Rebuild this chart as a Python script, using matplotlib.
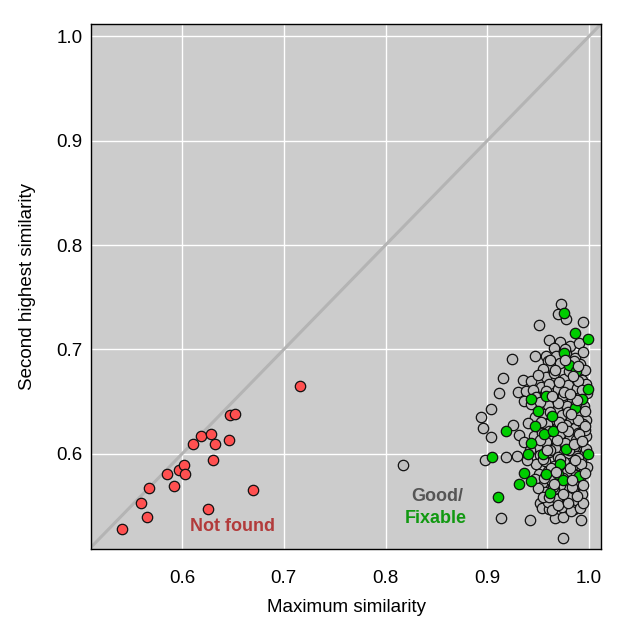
import matplotlib
matplotlib.use("Agg")
import matplotlib.pyplot as plt

plt.rcParams['font.family'] = ['Liberation Sans', 'DejaVu Sans']

# not found (red)
red_x = [0.541, 0.560, 0.566, 0.568, 0.585, 0.592, 0.597, 0.602, 0.603, 0.611,
         0.619, 0.628, 0.632, 0.630, 0.626, 0.646, 0.647, 0.652, 0.670, 0.716]
red_y = [0.528, 0.553, 0.540, 0.567, 0.581, 0.569, 0.585, 0.589, 0.581, 0.609,
         0.617, 0.619, 0.609, 0.594, 0.547, 0.613, 0.637, 0.638, 0.565, 0.665]

# good (gray): outliers first, then the dense core
gray_x = [0.817,
          0.9725, 0.9698, 0.9775, 0.9942, 0.9511, 0.9609, 0.9248, 0.9471, 0.9580, 0.9153,
          0.9350, 0.9426, 0.9120, 0.9301, 0.9383, 0.9360, 0.9035, 0.8939, 0.8963, 0.9035,
          0.9254, 0.9308, 0.9363, 0.8982, 0.9189, 0.9291, 0.9136, 0.9416, 0.9748, 0.9666,
          0.9748, 0.9823, 0.9853, 0.9925, 0.9515, 0.9540, 0.9604,
          0.972, 0.981, 0.990, 0.966,
          0.968, 0.977, 0.986, 0.994, 0.960,
          0.963, 0.972, 0.983, 0.991, 0.996, 0.955,
          0.958, 0.966, 0.975, 0.984, 0.993, 0.950,
          0.953, 0.961, 0.970, 0.979, 0.988, 0.997, 0.945,
          0.948, 0.957, 0.966, 0.974, 0.983, 0.992, 0.998,
          0.951, 0.960, 0.969, 0.978, 0.987, 0.995, 0.943,
          0.947, 0.955, 0.964, 0.973, 0.982, 0.990, 0.997,
          0.950, 0.959, 0.968, 0.977, 0.986, 0.994, 0.940,
          0.946, 0.954, 0.963, 0.972, 0.981, 0.989, 0.997,
          0.949, 0.958, 0.967, 0.976, 0.985, 0.993, 0.942,
          0.952, 0.961, 0.970, 0.979, 0.988, 0.996,
          0.948, 0.957, 0.966, 0.975, 0.984, 0.992, 0.939,
          0.951, 0.960, 0.969, 0.978, 0.987, 0.995,
          0.954, 0.963, 0.972, 0.981, 0.990, 0.947,
          0.957, 0.966, 0.975, 0.984, 0.993, 0.950,
          0.960, 0.969, 0.978, 0.987, 0.955,
          0.964, 0.973, 0.982, 0.991,
          0.976, 0.985, 0.967, 0.980, 0.971, 0.989, 0.958, 0.975, 0.993, 0.952,
          0.970, 0.987, 0.962, 0.979, 0.996, 0.953, 0.971, 0.989, 0.961, 0.979,
          0.996, 0.952, 0.969, 0.987, 0.962, 0.980, 0.997, 0.955, 0.972, 0.989,
          0.963, 0.981, 0.998, 0.956, 0.974, 0.991, 0.965, 0.983, 0.961, 0.979,
          0.994, 0.970]
gray_y = [0.589,
          0.7431, 0.7336, 0.7288, 0.7259, 0.7230, 0.7093, 0.6904, 0.6936, 0.6942, 0.6729,
          0.6706, 0.6700, 0.6585, 0.6594, 0.6600, 0.6511, 0.6434, 0.6355, 0.6252, 0.6166,
          0.6278, 0.6178, 0.6115, 0.5945, 0.5967, 0.5984, 0.5383, 0.5363, 0.5195, 0.5386,
          0.5399, 0.5478, 0.5473, 0.5363, 0.5526, 0.5482, 0.5476,
          0.707, 0.703, 0.706, 0.701,
          0.694, 0.697, 0.692, 0.698, 0.689,
          0.684, 0.687, 0.682, 0.686, 0.680, 0.681,
          0.674, 0.677, 0.672, 0.676, 0.671, 0.676,
          0.664, 0.667, 0.662, 0.666, 0.663, 0.667, 0.661,
          0.654, 0.657, 0.652, 0.656, 0.651, 0.655, 0.658,
          0.644, 0.647, 0.642, 0.646, 0.643, 0.646, 0.648,
          0.635, 0.638, 0.633, 0.637, 0.634, 0.638, 0.632,
          0.626, 0.629, 0.624, 0.628, 0.625, 0.629, 0.630,
          0.617, 0.620, 0.615, 0.619, 0.616, 0.620, 0.617,
          0.608, 0.611, 0.606, 0.610, 0.607, 0.611, 0.604,
          0.599, 0.602, 0.597, 0.601, 0.598, 0.602,
          0.590, 0.593, 0.588, 0.592, 0.589, 0.593, 0.594,
          0.581, 0.584, 0.579, 0.583, 0.580, 0.584,
          0.572, 0.575, 0.570, 0.574, 0.571, 0.576,
          0.563, 0.566, 0.561, 0.565, 0.562, 0.567,
          0.554, 0.557, 0.552, 0.556, 0.559,
          0.546, 0.549, 0.545, 0.548,
          0.700, 0.689, 0.680, 0.679, 0.669, 0.670, 0.660, 0.659, 0.661, 0.650,
          0.649, 0.648, 0.640, 0.640, 0.641, 0.631, 0.631, 0.632, 0.622, 0.622,
          0.623, 0.613, 0.613, 0.613, 0.604, 0.604, 0.605, 0.595, 0.595, 0.596,
          0.586, 0.586, 0.587, 0.577, 0.577, 0.578, 0.568, 0.568, 0.559, 0.559,
          0.553, 0.551]

# good (gray) drawn after the green ones
gray2_x = [0.984, 0.988, 0.982, 0.996, 0.990, 0.985, 0.992,
           0.983, 0.994, 0.988, 0.979, 0.996, 0.986, 0.981, 0.989,
           0.976, 0.993, 0.968, 0.964, 0.973, 0.959, 0.966, 0.974, 0.962]
gray2_y = [0.675, 0.652, 0.638, 0.627, 0.619, 0.609, 0.590,
           0.575, 0.570, 0.560, 0.553, 0.582, 0.594, 0.657, 0.684,
           0.690, 0.612, 0.583, 0.655, 0.626, 0.604, 0.571, 0.562, 0.690]

# fixable (green)
green_x = [0.9866, 0.999, 0.9801, 0.9876, 0.9757, 0.9935, 0.9866, 0.9495, 0.9577, 0.9429,
           0.9468, 0.9185, 0.9560, 0.9646, 0.9429, 0.9402, 0.9550, 0.9047, 0.9718, 0.9363,
           0.9426, 0.9311, 0.9574, 0.9692, 0.9616, 0.9104, 0.999, 0.9774, 0.9988, 0.9745,
           0.9905, 0.9633, 0.9757]
green_y = [0.7156, 0.710, 0.6847, 0.6796, 0.6968, 0.6521, 0.6441, 0.6408, 0.6552, 0.6527,
           0.6265, 0.6221, 0.6195, 0.6221, 0.6102, 0.6003, 0.6003, 0.5967, 0.5900, 0.5814,
           0.5741, 0.5715, 0.5808, 0.5808, 0.5622, 0.5588, 0.6000, 0.6044, 0.6626, 0.5754,
           0.5785, 0.6360, 0.7345]

fig = plt.figure(figsize=(6.23, 6.23), dpi=100)
ax = fig.add_axes([0.146, 0.119, 0.819, 0.842])
ax.set_facecolor('#cccccc')
ax.grid(True, color='white', linewidth=1.0)
ax.set_axisbelow(True)

ax.plot([0, 1.1], [0, 1.1], color='#b4b4b4', linewidth=2.2, zorder=1)

kw = dict(s=56, edgecolors='#111111', linewidths=0.9, zorder=3)
ax.scatter(red_x, red_y, c='#ff5050', **kw)
ax.scatter(gray_x, gray_y, c='#bebebe', **kw)
ax.scatter(green_x, green_y, c='#00cd00', **kw)
ax.scatter(gray2_x, gray2_y, c='#bebebe', **kw)

ax.text(0.650, 0.530, 'Not found', color='#b23b3b', fontsize=13, fontweight='bold',
        ha='center', va='center')
ax.text(0.851, 0.559, 'Good/', color='#555555', fontsize=13, fontweight='bold',
        ha='center', va='center')
ax.text(0.849, 0.538, 'Fixable', color='#119911', fontsize=13, fontweight='bold',
        ha='center', va='center')

ax.set_xlim(0.5105, 1.012)
ax.set_ylim(0.509, 1.0115)
ax.set_xticks([0.6, 0.7, 0.8, 0.9, 1.0])
ax.set_yticks([0.6, 0.7, 0.8, 0.9, 1.0])
ax.set_xticklabels(['0.6', '0.7', '0.8', '0.9', '1.0'])
ax.set_yticklabels(['0.6', '0.7', '0.8', '0.9', '1.0'])
ax.tick_params(length=0, labelsize=13.5)
ax.tick_params(axis='x', pad=15)
ax.tick_params(axis='y', pad=6)
for sp in ax.spines.values():
    sp.set_linewidth(1.0)
ax.set_xlabel('Maximum similarity', fontsize=13.5, labelpad=9)
ax.set_ylabel('Second highest similarity', fontsize=13.5, labelpad=15)

fig.savefig('out.png', dpi=100)
